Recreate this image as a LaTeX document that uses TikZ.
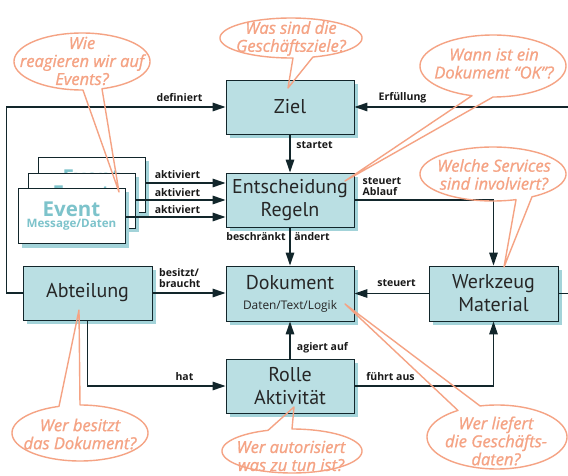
\documentclass[tikz,border=0pt]{standalone}
\usepackage{fontspec}
\setmainfont{PT Sans}
\newfontfamily\osans{Open Sans}
\newfontfamily\bubfont{Open Sans}[FakeBold=1]
\usetikzlibrary{arrows.meta,shadows}
\definecolor{boxfill}{HTML}{BADFE3}
\definecolor{boxshadow}{HTML}{A3D3D9}
\definecolor{ink}{HTML}{12262B}
\definecolor{bub}{HTML}{F5A384}
\definecolor{evtxt}{HTML}{7DC3CB}
\tikzset{
  box/.style={draw=ink, line width=0.9pt, fill=boxfill, minimum width=128pt, minimum height=54pt,
    inner sep=0pt, align=center, text=black!85, font=\fontsize{20}{23}\selectfont,
    drop shadow={shadow xshift=4pt, shadow yshift=-4pt, fill=boxshadow, opacity=1}},
  evbox/.style={draw=ink, line width=0.9pt, fill=white, minimum width=107pt, minimum height=55pt,
    inner sep=0pt, align=center, text=evtxt,
    drop shadow={shadow xshift=4pt, shadow yshift=-4pt, fill=boxshadow, opacity=1}},
  conn/.style={draw=ink, line width=1.4pt, -{Triangle[length=13pt,width=8.5pt]}},
  lbl/.style={font=\osans\fontsize{10.5}{11}\selectfont\bfseries, text=black!90, inner sep=0pt, align=left},
  bubble/.style={draw=bub, line width=1.4pt, line join=round},
  bubtxt/.style={text=bub, align=center, inner sep=0pt, font=\bubfont\fontsize{16.5}{18}\selectfont\itshape},
}
\newcommand\speech[9]{% cx cy rx ry start end tipx tipy name
  \draw[bubble] plot[variable=\t, domain=#5:#6, samples=100, smooth] ({#1+#3*cos(\t)},{#2+#4*sin(\t)})
     -- (#7,#8) coordinate (#9) -- cycle;}
\newcommand\evtext{{\osans\fontsize{20.5}{21}\selectfont\bfseries Event}\\[-1pt]{\osans\fontsize{11.6}{13}\selectfont\bfseries Message/Daten}}
\begin{document}
\begin{tikzpicture}[x=1pt, y=-1pt]
\useasboundingbox (0,0) rectangle (568,476);
\fill[white] (0,0) rectangle (568,476);
% boxes
\node[box] (ziel) at (290,107) {Ziel};
\node[box] (ent) at (290,200) {Entscheidung\\Regeln};
\node[box, minimum height=55pt] (dok) at (290,293.5) {Dokument\\[-3pt]{\osans\fontsize{11.9}{14}\selectfont Daten/Text/Logik}};
\node[box] (rolle) at (290,386) {Rolle\\Aktivität};
\node[box, minimum width=129pt] (abt) at (87.5,293) {Abteilung};
\node[box, minimum width=129pt, minimum height=55pt] (werk) at (493.5,293.5) {Werkzeug\\Material};
% events
\node[evbox] (ev3) at (91.5,184.5) {\evtext};
\node[evbox] (ev2) at (81.5,200.5) {\evtext};
\node[evbox] (ev1) at (71.5,216) {\evtext};
% connectors
\draw[conn] (abt.west) -- ++(-16,0) |- (ziel.west);
\draw[conn] (werk.east) -- ++(20,0) |- (ziel.east);
\draw[conn] (ziel.south) -- (ent.north);
\draw[conn] (ent.south) -- (dok.north);
\draw[conn] (ev3.east |- 0,183) -- (ent.west |- 0,183);
\draw[conn] (ev2.east |- 0,200) -- (ent.west |- 0,200);
\draw[conn] (ev1.east |- 0,217) -- (ent.west |- 0,217);
\draw[conn] (ent.east) -| (werk.north);
\draw[conn] (werk.west) -- (dok.east);
\draw[conn] (abt.east) -- (abt.east -| dok.west);
\draw[conn] (abt.south) |- (rolle.west);
\draw[conn] (rolle.north) -- (dok.south);
\draw[conn] (rolle.east) -| (werk.south);
% labels
\node[lbl] (l1) at (179.5,98) {definiert};
\node[lbl] (l2) at (402.5,98) {Erfüllung};
\node[lbl] (l3) at (314.5,145) {startet};
\node[lbl] (l4) at (177.5,175) {aktiviert};
\node[lbl] (l5) at (177.5,192.5) {aktiviert};
\node[lbl] (l6) at (177.5,210) {aktiviert};
\node[lbl, anchor=west] (l7) at (362.5,187) {steuert\\Ablauf};
\node[lbl] (l8) at (256,237) {beschränkt};
\node[lbl] (l9) at (312,237) {ändert};
\node[lbl, anchor=west] (l10) at (159,278) {besitzt/\\braucht};
\node[lbl] (l11) at (396.5,283) {steuert};
\node[lbl] (l12) at (184.5,377) {hat};
\node[lbl] (l13) at (322.5,348) {agiert auf};
\node[lbl] (l14) at (390.5,377) {führt aus};
% speech bubbles
\speech{82}{61.5}{68}{28.5}{89.2}{432.9}{119}{192}{t1}
\node[bubtxt] (b1) at (82,61) {Wie\\reagieren wir auf\\Events?};
\speech{291}{38}{71}{20}{88.4}{432}{288}{88}{t2}
\node[bubtxt] (b2) at (291,38.5) {Was sind die\\Geschäftsziele?};
\speech{493}{66}{73}{31}{106.7}{450}{345}{181}{t3}
\node[bubtxt] (b3) at (494,63.5) {Wann ist ein\\Dokument “OK”?};
\speech{493}{174}{73}{27}{71.6}{417.7}{504}{267}{t4}
\node[bubtxt] (b4) at (494,174.5) {Welche Services\\sind involviert?};
\speech{80}{433}{68}{28}{-90}{252}{79}{310}{t5}
\node[bubtxt] (b5) at (80,434) {Wer besitzt\\das Dokument?};
\speech{292}{451}{70}{22}{-90}{250}{294}{407}{t6}
\node[bubtxt] (b6) at (291,456) {Wer autorisiert\\was zu tun ist?};
\speech{497}{437}{70}{32}{-104}{236.1}{345}{304}{t7}
\node[bubtxt] (b7) at (496,441) {Wer liefert\\die Geschäfts-\\daten?};
\end{tikzpicture}
\end{document}
